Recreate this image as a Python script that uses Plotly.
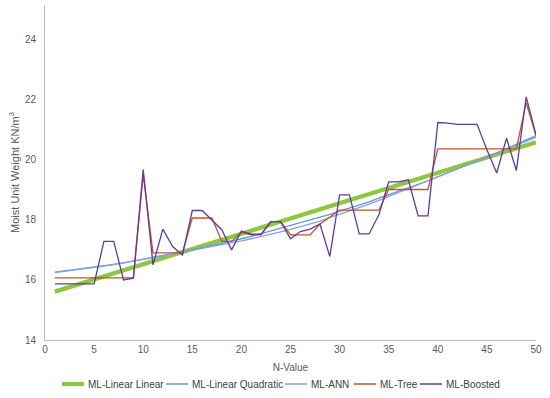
import plotly.graph_objects as go

n_values = list(range(1, 51))

# ML-Linear Linear: straight fitted line, read at its two ends
linear_x = [1, 50]
linear_linear = [15.61, 20.58]

linear_quadratic = [16.26, 16.30, 16.34, 16.38, 16.43, 16.47, 16.52, 16.57, 16.63, 16.68,
                    16.74, 16.80, 16.87, 16.93, 17.00, 17.07, 17.14, 17.22, 17.29, 17.37,
                    17.45, 17.54, 17.62, 17.71, 17.80, 17.89, 17.99, 18.09, 18.18, 18.29,
                    18.39, 18.50, 18.60, 18.72, 18.83, 18.95, 19.06, 19.18, 19.30, 19.43,
                    19.56, 19.69, 19.82, 19.95, 20.09, 20.23, 20.37, 20.51, 20.65, 20.80]

ml_ann = [16.24, 16.28, 16.32, 16.36, 16.41, 16.46, 16.51, 16.56, 16.62, 16.68,
          16.74, 16.80, 16.86, 16.92, 16.98, 17.04, 17.10, 17.17, 17.23, 17.30,
          17.37, 17.44, 17.52, 17.60, 17.68, 17.77, 17.86, 17.96, 18.07, 18.18,
          18.29, 18.40, 18.52, 18.65, 18.78, 18.90, 19.03, 19.16, 19.29, 19.42,
          19.55, 19.68, 19.81, 19.94, 20.07, 20.21, 20.34, 20.48, 20.61, 20.75]

ml_tree = [16.07, 16.07, 16.07, 16.07, 16.07, 16.07, 16.07, 16.07, 16.07, 19.50,
           16.90, 16.90, 16.90, 16.90, 18.06, 18.06, 18.06, 17.28, 17.28, 17.58,
           17.50, 17.50, 17.94, 17.94, 17.50, 17.50, 17.50, 17.86, 18.09, 18.32,
           18.32, 18.32, 18.32, 18.32, 19.01, 19.01, 19.01, 19.01, 19.01, 20.36,
           20.36, 20.36, 20.36, 20.36, 20.36, 20.36, 20.36, 20.36, 21.90, 20.80]

ml_boosted = [15.87, 15.87, 15.87, 15.87, 15.87, 17.28, 17.28, 16.00, 16.06, 19.67,
              16.50, 17.69, 17.11, 16.83, 18.31, 18.31, 17.98, 17.67, 17.00, 17.63,
              17.52, 17.52, 17.94, 17.94, 17.37, 17.61, 17.69, 17.86, 16.78, 18.83,
              18.83, 17.53, 17.53, 18.17, 19.26, 19.26, 19.33, 18.13, 18.13, 21.24,
              21.22, 21.18, 21.18, 21.18, 20.33, 19.56, 20.72, 19.64, 22.09, 20.83]

series_names = ["ML-Linear Linear", "ML-Linear Quadratic", "ML-ANN", "ML-Tree", "ML-Boosted"]
series_colors = ["#8DC63F", "#5B9BD5", "#8A9EE6", "#C0562A", "#5E3C9E"]
series_widths = [4.2, 1.3, 1.3, 1.3, 1.3]

x_ticks = [0, 5, 10, 15, 20, 25, 30, 35, 40, 45, 50]
y_ticks = [14, 16, 18, 20, 22, 24]

FONT = "Liberation Sans, Arial, sans-serif"
W, H = 550, 398
ML, MR, MT, MB = 45, 14, 5, 58
PW, PH = W - ML - MR, H - MT - MB


def px_x(p):
    return (p - ML) / PW


def px_y(p):
    return (H - MB - p) / PH


fig = go.Figure()
xs = [linear_x, n_values, n_values, n_values, n_values]
ys = [linear_linear, linear_quadratic, ml_ann, ml_tree, ml_boosted]
for x, y, nm, c, w in zip(xs, ys, series_names, series_colors, series_widths):
    fig.add_trace(go.Scatter(x=x, y=y, mode="lines", name=nm, showlegend=False,
                             line=dict(color=c, width=w)))

# legend drawn as shapes + text, laid out like the reference
legend_text_x = [86, 190, 309, 378, 444]
legend_y = 384
shapes = []
annotations = []
for tx, nm, c, w in zip(legend_text_x, series_names, series_colors, series_widths):
    shapes.append(dict(type="line", xref="paper", yref="paper",
                       x0=px_x(tx - 24), x1=px_x(tx - 2), y0=px_y(legend_y), y1=px_y(legend_y),
                       line=dict(color=c, width=w if w > 2 else 1.5)))
    annotations.append(dict(text=nm, xref="paper", yref="paper", x=px_x(tx), y=px_y(legend_y),
                            xanchor="left", yanchor="middle", showarrow=False,
                            font=dict(size=10, color="#404040", family=FONT)))

fig.update_layout(
    width=W, height=H,
    margin=dict(l=ML, r=MR, t=MT, b=MB),
    paper_bgcolor="white", plot_bgcolor="white",
    font=dict(family=FONT, size=10, color="#595959"),
    showlegend=False,
    shapes=shapes,
    annotations=annotations,
    xaxis=dict(range=[0, 50], tickvals=x_ticks, ticktext=[str(v) for v in x_ticks],
               showgrid=False, zeroline=False, showline=True, linecolor="#BFBFBF", linewidth=1,
               ticks="", automargin=False,
               title=dict(text="N-Value", standoff=9, font=dict(size=10, color="#595959"))),
    yaxis=dict(range=[14, 25.15], tickvals=y_ticks, ticktext=[str(v) for v in y_ticks],
               showgrid=False, zeroline=False, showline=True, linecolor="#BFBFBF", linewidth=1,
               ticks="outside", ticklen=6, tickcolor="rgba(0,0,0,0)", automargin=False,
               title=dict(text="Moist Unit Weight KN/m<sup>3</sup>", standoff=3,
                          font=dict(size=11, color="#595959"))),
)

fig.write_html("out.html", config={"displayModeBar": False},
               post_script="document.body.style.margin='0';")
